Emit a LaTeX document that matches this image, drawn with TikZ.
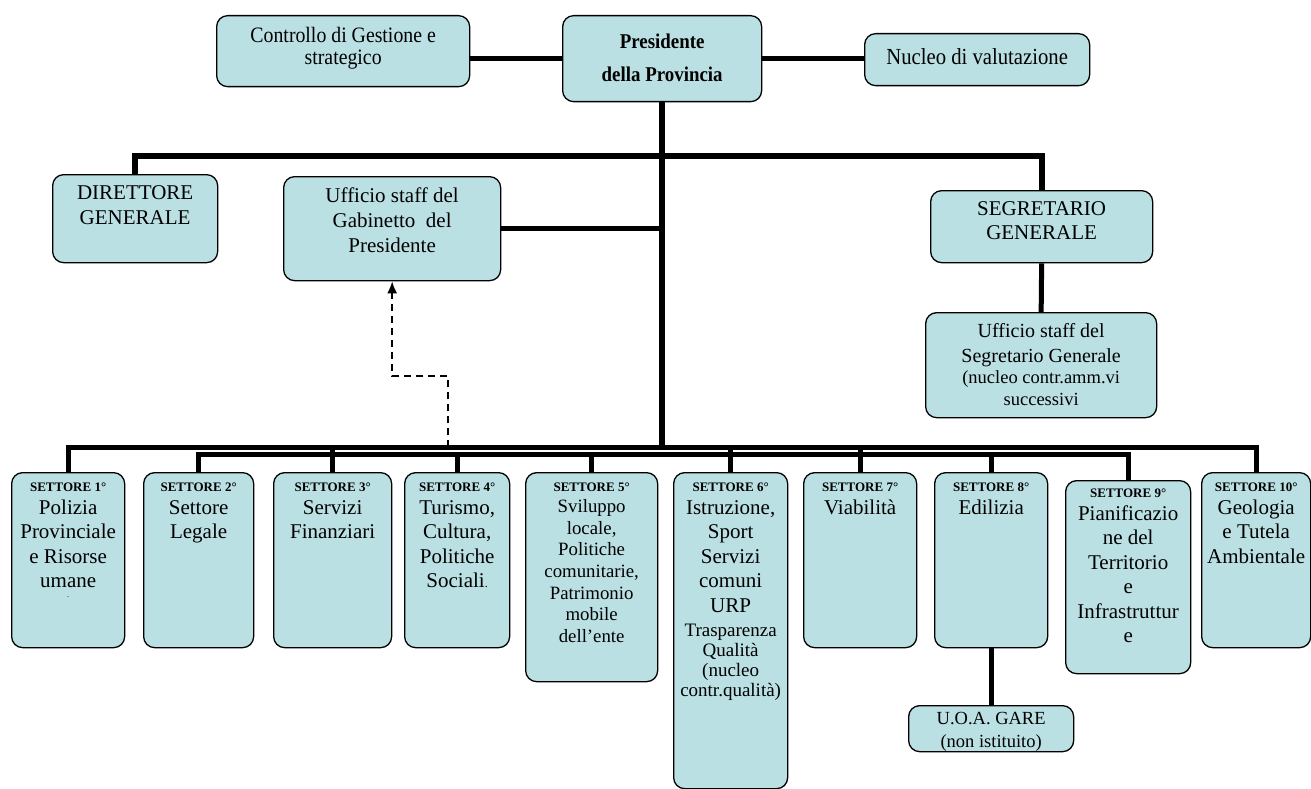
\documentclass[tikz,border=0pt]{standalone}
\usepackage{fontspec}
\setmainfont{Liberation Serif}
\newfontfamily\condfont[FakeStretch=0.9]{Liberation Serif}
\usetikzlibrary{arrows.meta,backgrounds}
\definecolor{boxblue}{RGB}{187,224,227}
\newcommand{\setfs}[2]{\fontsize{#1}{#2}\selectfont}
\newcommand{\topbox}[4]{\parbox[c][#2pt][t]{#1pt}{\centering\vspace*{#3pt}#4\par}}
\newcommand{\lab}[1]{{\bfseries\setfs{13}{15}#1\par}}
\begin{document}
\begin{tikzpicture}[x=1pt,y=-1pt,
  box/.style={draw, line width=1.3pt, fill=boxblue, rounded corners=11pt, inner sep=0pt, anchor=north west},
  conn/.style={line width=5pt},
  heavy/.style={line width=6pt}]
\useasboundingbox (0,0) rectangle (1311,789);
% top row
\node[box] (ctrl) at (216,15) {\topbox{253}{71}{11.5}{\condfont\setfs{22}{22.5}Controllo di Gestione e\\strategico}};
\node[box] (pres) at (562,15) {\topbox{199}{86}{18.5}{\condfont\setfs{21}{33}\bfseries Presidente\\della Provincia}};
\node[box] (nuc) at (864,33) {\topbox{225}{52}{15.1}{\condfont\setfs{23}{24}Nucleo di valutazione}};
% second row
\node[box] (dir) at (52,174) {\topbox{165}{88}{11.1}{\setfs{21}{25}DIRETTORE\\GENERALE}};
\node[box] (gab) at (283,176) {\topbox{217}{104}{11.5}{\setfs{21}{25}Ufficio staff del\\Gabinetto\ \ del\\Presidente}};
\node[box] (seg) at (930,190) {\topbox{222}{72}{11.1}{\setfs{21}{24}SEGRETARIO\\GENERALE}};
\node[box] (sgs) at (925,312) {\topbox{231}{105}{11.2}{\setfs{20}{24.5}Ufficio staff del\\Segretario Generale\par\vspace{-0.5pt}\setfs{18.5}{22}(nucleo contr.amm.vi\\successivi}};
% settori
\node[box] (s1) at (11,472) {\topbox{113}{175}{10.3}{\lab{SETTORE 1°}\vspace{-2pt}\setfs{21}{24.5}Polizia\\Provinciale\\e Risorse\\umane\par\setfs{8}{10}.}};
\node[box] (s2) at (143,472) {\topbox{110}{175}{10.3}{\lab{SETTORE 2°}\vspace{-2pt}\setfs{21}{24.5}Settore\\Legale}};
\node[box] (s3) at (273,472) {\topbox{118}{175}{10.3}{\lab{SETTORE 3°}\vspace{-2pt}\setfs{21}{24.5}Servizi\\Finanziari}};
\node[box] (s4) at (404,472) {\topbox{105}{175}{10.3}{\lab{SETTORE 4°}\vspace{-2pt}\setfs{21}{24.5}Turismo,\\Cultura,\\Politiche\\Sociali{\setfs{12}{14}.}}};
\node[box] (s5) at (525,472) {\topbox{132}{209}{10.3}{\lab{SETTORE 5°}\vspace{-1pt}\setfs{18.8}{21.7}Sviluppo\\locale,\\Politiche\\comunitarie,\\Patrimonio\\mobile\\dell’ente}};
\node[box] (s6) at (673,472) {\topbox{114}{316}{10.3}{\lab{SETTORE 6°}\vspace{-2pt}\setfs{21}{24.5}Istruzione,\\Sport\\Servizi\\comuni\\URP\par\vspace{4pt}\setfs{19}{20}Trasparenza\\Qualità\\(nucleo\\contr.qualità)}};
\node[box] (s7) at (803,472) {\topbox{113}{175}{10.3}{\lab{SETTORE 7°}\vspace{-2pt}\setfs{21}{24.5}Viabilità}};
\node[box] (s8) at (934,472) {\topbox{113}{175}{10.3}{\lab{SETTORE 8°}\vspace{-2pt}\setfs{21}{24.5}Edilizia}};
\node[box] (s9) at (1065,480) {\topbox{125}{193}{8.3}{\lab{SETTORE 9°}\vspace{-2pt}\setfs{21}{24.5}Pianificazio\\ne del\\Territorio\\e\\Infrastruttur\\e}};
\node[box] (s10) at (1201,472) {\topbox{109}{175}{10.3}{\lab{SETTORE 10°}\vspace{-2pt}\setfs{21}{24.5}Geologia\\e Tutela\\Ambientale}};
\node[box] (uoa) at (908,705) {\topbox{165}{46}{6.3}{\setfs{18.5}{23}U.O.A. GARE\\(non istituito)}};
% coordinates
\coordinate (ub) at (0,156);
\coordinate (busA) at (0,447.5);
\coordinate (busB) at (0,454.5);
\coordinate (dstart) at (448,447);
\begin{scope}[on background layer]
\draw[conn] (pres.west) -- (pres.west -| ctrl.east);
\draw[conn] (pres.east) -- (pres.east -| nuc.west);
\draw[heavy] (pres.south) -- (pres.south |- busA);
\draw[heavy] (dir.north) |- (seg.north |- ub) -- (seg.north);
\draw[line width=4.5pt] (gab.east) -- (gab.east -| pres.south);
\draw[conn] (seg.south) -- (sgs.north);
\draw[conn] (s1.north) |- (s10.north |- busA) -- (s10.north);
\draw[conn] (s2.north) |- (s9.north |- busB) -- (s9.north);
\foreach \n in {s3,s6,s7} \draw[conn] (\n.north) -- (\n.north |- busA);
\foreach \n in {s4,s5,s8} \draw[conn] (\n.north) -- (\n.north |- busB);
\draw[conn] (s8.south) -- (uoa.north);
\end{scope}
\draw[line width=2pt, dash pattern=on 7pt off 5pt, -{Latex[length=12pt,width=10pt]}] (dstart) -- (dstart |- 0,376) -| (gab.south);
\end{tikzpicture}
\end{document}
